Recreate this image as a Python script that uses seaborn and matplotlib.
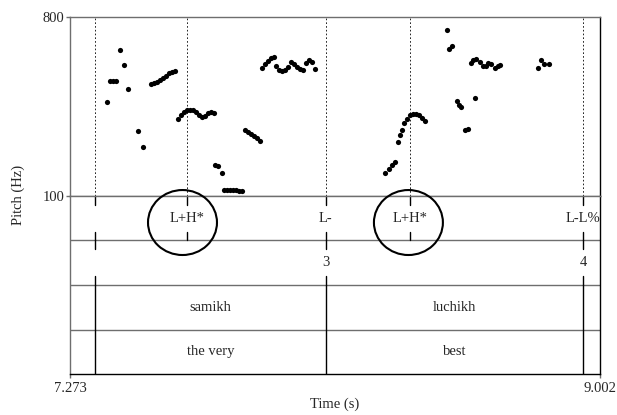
import pandas as pd
import matplotlib.pyplot as plt
import seaborn as sns
from matplotlib.patches import Ellipse

# pitch track (s, Hz)
pitch_time = [
    7.395, 7.404, 7.413, 7.423, 7.436, 7.450, 7.463, 7.496, 7.510,
    7.537, 7.547, 7.557, 7.567, 7.576, 7.586, 7.596, 7.606, 7.616,
    7.625, 7.635, 7.645, 7.655, 7.665, 7.674, 7.684, 7.694, 7.704, 7.713, 7.723, 7.733, 7.743,
    7.746, 7.756, 7.769,
    7.775, 7.785, 7.795, 7.805, 7.815, 7.824, 7.834,
    7.844, 7.854, 7.864, 7.873, 7.883, 7.893,
    7.899, 7.909, 7.919, 7.929, 7.939, 7.945, 7.955, 7.965, 7.974, 7.984,
    7.994, 8.004, 8.014, 8.023, 8.033, 8.043, 8.053, 8.063, 8.072,
    8.301, 8.313, 8.324, 8.334, 8.343, 8.351, 8.357, 8.364, 8.373, 8.383,
    8.393, 8.403, 8.412, 8.422, 8.430,
    8.504, 8.511, 8.518, 8.534, 8.542, 8.550, 8.560, 8.571, 8.594,
    8.580, 8.589, 8.599, 8.609, 8.619, 8.629, 8.638, 8.648, 8.658, 8.668, 8.677,
    8.799, 8.809, 8.820, 8.834,
]
pitch_hz = [
    466, 551, 551, 551, 671, 612, 518, 355, 293,
    538, 542, 546, 552, 561, 571, 581, 585, 587,
    401, 417, 428, 436, 438, 436, 428, 417, 409, 413, 425, 428, 425,
    221, 217, 190,
    123, 123, 122, 122, 122, 121, 121,
    360, 352, 342, 335, 325, 317,
    601, 616, 628, 640, 644, 608, 593, 589, 593, 604,
    624, 616, 604, 597, 593, 620, 632, 624, 597,
    191, 206, 221, 234, 312, 339, 358, 384, 403, 415,
    421, 421, 415, 405, 393,
    749, 676, 688, 472, 456, 449, 358, 362, 482,
    620, 632, 634, 624, 608, 608, 620, 618, 601, 608, 614,
    599, 632, 616, 615,
]

t_start, t_end = 7.273, 9.002
f_min, f_max = 100, 800

# tier 1: tones (point tier)
tone_times = [7.355, 7.655, 8.107, 8.381, 8.948]
tone_labels = ["", "L+H*", "L-", "L+H*", "L-L%"]
# tier 2: break indices (point tier)
break_times = [7.355, 8.107, 8.948]
break_labels = ["", "3", "4"]
# tiers 3 and 4: words (interval tiers)
word_bounds = [7.273, 7.355, 8.107, 8.948, 9.002]
words = ["", "samikh", "luchikh", ""]
gloss = ["", "the very", "best", ""]
# circled accents
circle_times = [7.640, 8.377]

sns.set_style("white")
plt.rcParams["font.family"] = ["Liberation Serif", "DejaVu Serif"]
fs = 10.5
frame = "#6e6e6e"

df = pd.DataFrame({"time": pitch_time, "hz": pitch_hz})

fig = plt.figure(figsize=(6.17, 4.15), dpi=100)
W, H = 617, 415
left, right = 70 / W, 600 / W
ax_p = fig.add_axes([left, 1 - 196 / H, right - left, (196 - 17) / H])
ax_t = fig.add_axes([left, 1 - 374 / H, right - left, (374 - 196) / H])

# pitch panel
for t in tone_times:
    ax_p.axvline(t, color="black", lw=0.6, ls=(0, (2, 2.5)), zorder=1)
sns.scatterplot(data=df, x="time", y="hz", ax=ax_p, color="black",
                s=14, linewidth=0, legend=False, zorder=3)
ax_p.set_xlim(t_start, t_end)
ax_p.set_ylim(f_min, f_max)
ax_p.set_xticks([])
ax_p.set_yticks([f_min, f_max])
ax_p.set_yticklabels(["100", "800"], fontsize=fs)
ax_p.tick_params(axis="y", length=3, width=1, color=frame, pad=1, left=True)
ax_p.set_xlabel("")
ax_p.set_ylabel("")
for sp in ax_p.spines.values():
    sp.set_color(frame)
    sp.set_linewidth(1)
ax_p.spines["right"].set_color("black")

# text grid panel
ax_t.set_xlim(t_start, t_end)
ax_t.set_ylim(0, 4)
for y in [1, 2, 3]:
    ax_t.axhline(y, color=frame, lw=1)
mark = 0.2

for t, lab in zip(tone_times, tone_labels):
    ax_t.plot([t, t], [4, 4 - mark], color="black", lw=1)
    ax_t.plot([t, t], [3, 3 + mark], color="black", lw=1)
    if lab:
        ax_t.text(t, 3.5, lab, ha="center", va="center", fontsize=fs)

for t, lab in zip(break_times, break_labels):
    ax_t.plot([t, t], [3, 3 - mark], color="black", lw=1)
    ax_t.plot([t, t], [2, 2 + mark], color="black", lw=1)
    if lab:
        ax_t.text(t, 2.5, lab, ha="center", va="center", fontsize=fs)

for b in word_bounds[1:-1]:
    ax_t.plot([b, b], [0, 2], color="black", lw=1)
for i in range(len(words)):
    mid = (word_bounds[i] + word_bounds[i + 1]) / 2
    if words[i]:
        ax_t.text(mid, 1.5, words[i], ha="center", va="center", fontsize=fs)
    if gloss[i]:
        ax_t.text(mid, 0.5, gloss[i], ha="center", va="center", fontsize=fs)

for c in circle_times:
    ax_t.add_patch(Ellipse((c, 3.404), width=0.225, height=1.46,
                           fill=False, ec="black", lw=1.5, clip_on=False, zorder=5))

ax_t.set_yticks([])
ax_t.set_xticks([t_start, t_end])
ax_t.set_xticklabels(["7.273", "9.002"], fontsize=fs)
ax_t.tick_params(axis="x", length=3, width=1, color=frame, pad=3, bottom=True)
for sp in ax_t.spines.values():
    sp.set_color(frame)
    sp.set_linewidth(1)
ax_t.spines["right"].set_color("black")
ax_t.spines["bottom"].set_color("black")

fig.text(335 / W, 1 - 404 / H, "Time (s)", ha="center", va="center", fontsize=fs)
fig.text(18 / W, 1 - 195 / H, "Pitch (Hz)", ha="center", va="center",
         rotation=90, fontsize=fs)

fig.savefig("out.png", dpi=100)
